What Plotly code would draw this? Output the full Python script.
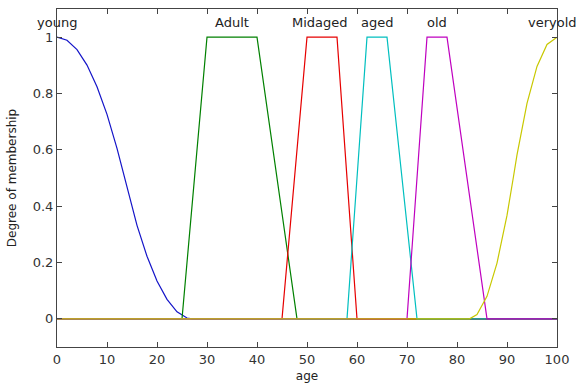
import plotly.graph_objects as go

# Membership functions (age vs degree of membership)
young_x = [0, 2, 4, 6, 8, 10, 12, 13.5, 14, 16, 18, 20, 22, 24, 26, 27, 100]
young_y = [1, 0.989, 0.956, 0.901, 0.824, 0.726, 0.605, 0.5, 0.464, 0.332, 0.222, 0.134, 0.069, 0.025, 0.003, 0, 0]

adult_x = [0, 25, 30, 40, 48, 100]
adult_y = [0, 0, 1, 1, 0, 0]

midaged_x = [0, 45, 50, 56, 60, 100]
midaged_y = [0, 0, 1, 1, 0, 0]

aged_x = [0, 58, 62, 66, 72, 100]
aged_y = [0, 0, 1, 1, 0, 0]

old_x = [0, 70, 74, 78, 86, 100]
old_y = [0, 0, 1, 1, 0, 0]

veryold_x = [0, 82.5, 84, 86, 88, 90, 91.25, 92, 94, 96, 98, 100]
veryold_y = [0, 0, 0.015, 0.08, 0.198, 0.367, 0.5, 0.582, 0.765, 0.896, 0.974, 1]

names = ["young", "Adult", "Midaged", "aged", "old", "veryold"]
label_x = [0, 35, 52.6, 64, 76, 99]
colors = ["rgb(20,20,200)", "rgb(0,128,0)", "rgb(230,0,0)", "rgb(0,191,191)", "rgb(191,0,191)", "rgb(200,200,0)"]

x_ticks = [0, 10, 20, 30, 40, 50, 60, 70, 80, 90, 100]
y_ticks = [0, 0.2, 0.4, 0.6, 0.8, 1]
y_ticktext = ["0", "0.2", "0.4", "0.6", "0.8", "1"]

series = [(young_x, young_y), (adult_x, adult_y), (midaged_x, midaged_y),
          (aged_x, aged_y), (old_x, old_y), (veryold_x, veryold_y)]

fig = go.Figure()
for (xs, ys), name, col in zip(series, names, colors):
    fig.add_trace(go.Scatter(x=xs, y=ys, mode="lines", name=name,
                             line=dict(color=col, width=1.2), showlegend=False))

for name, lx in zip(names, label_x):
    fig.add_annotation(x=lx, y=1.053, text=name, showarrow=False,
                       xanchor="center", yanchor="middle",
                       font=dict(family="DejaVu Sans", size=13, color="#222"))

axis_common = dict(showline=True, linecolor="#444", linewidth=1, mirror="ticks",
                   ticks="inside", ticklen=5, tickcolor="#444", showgrid=False,
                   zeroline=False, automargin=False,
                   tickfont=dict(family="DejaVu Sans", size=13, color="#333"))

fig.update_xaxes(range=[0, 100], tickvals=x_ticks,
                 title=dict(text="age", font=dict(family="DejaVu Sans", size=12, color="#222"), standoff=10),
                 **axis_common)
fig.update_yaxes(range=[-0.1, 1.1], tickvals=y_ticks, ticktext=y_ticktext,
                 title=dict(text="Degree of membership", font=dict(family="DejaVu Sans", size=12, color="#222"), standoff=13),
                 **axis_common)

fig.update_layout(width=580, height=383, margin=dict(l=57, r=23, t=9, b=36),
                  paper_bgcolor="white", plot_bgcolor="white")

fig.write_html("out.html")
